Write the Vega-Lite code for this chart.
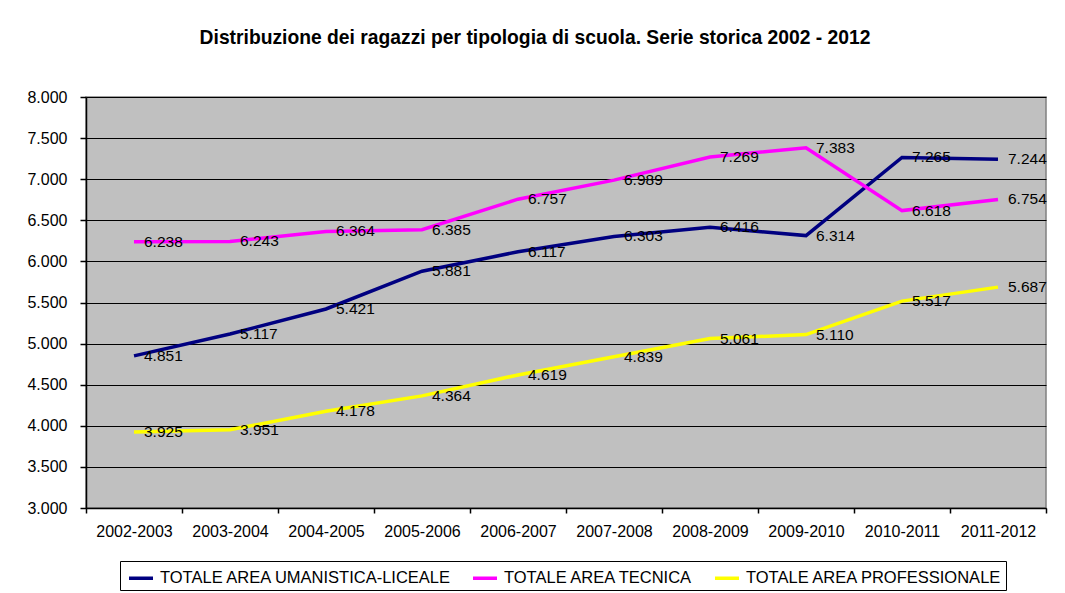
{
  "$schema": "https://vega.github.io/schema/vega-lite/v6.json",
  "width": 960,
  "height": 411,
  "autosize": {"type": "none"},
  "padding": {"left": 86, "top": 97, "right": 19, "bottom": 85},
  "background": "white",
  "config": {
    "locale": {"number": {"decimal": ",", "thousands": ".", "grouping": [3], "currency": ["€", ""]}},
    "font": "Liberation Sans",
    "view": {"fill": "#C0C0C0", "stroke": "#808080", "strokeWidth": 1.5},
    "axis": {"labelFont": "Liberation Sans", "labelFontSize": 16, "labelColor": "black", "domainColor": "black", "tickColor": "black", "domainWidth": 1.5, "tickWidth": 1.5}
  },
  "title": {
    "text": "Distribuzione dei ragazzi per tipologia di scuola. Serie storica 2002 - 2012",
    "font": "Liberation Sans",
    "fontSize": 19.3,
    "fontWeight": "bold",
    "color": "black",
    "anchor": "middle",
    "frame": "group",
    "offset": 41,
    "dx": -31
  },
  "data": {
    "values": [
      {"anno": "2002-2003", "serie": "TOTALE AREA UMANISTICA-LICEALE", "valore": 4851},
      {"anno": "2003-2004", "serie": "TOTALE AREA UMANISTICA-LICEALE", "valore": 5117},
      {"anno": "2004-2005", "serie": "TOTALE AREA UMANISTICA-LICEALE", "valore": 5421},
      {"anno": "2005-2006", "serie": "TOTALE AREA UMANISTICA-LICEALE", "valore": 5881},
      {"anno": "2006-2007", "serie": "TOTALE AREA UMANISTICA-LICEALE", "valore": 6117},
      {"anno": "2007-2008", "serie": "TOTALE AREA UMANISTICA-LICEALE", "valore": 6303},
      {"anno": "2008-2009", "serie": "TOTALE AREA UMANISTICA-LICEALE", "valore": 6416},
      {"anno": "2009-2010", "serie": "TOTALE AREA UMANISTICA-LICEALE", "valore": 6314},
      {"anno": "2010-2011", "serie": "TOTALE AREA UMANISTICA-LICEALE", "valore": 7265},
      {"anno": "2011-2012", "serie": "TOTALE AREA UMANISTICA-LICEALE", "valore": 7244},
      {"anno": "2002-2003", "serie": "TOTALE AREA TECNICA", "valore": 6238},
      {"anno": "2003-2004", "serie": "TOTALE AREA TECNICA", "valore": 6243},
      {"anno": "2004-2005", "serie": "TOTALE AREA TECNICA", "valore": 6364},
      {"anno": "2005-2006", "serie": "TOTALE AREA TECNICA", "valore": 6385},
      {"anno": "2006-2007", "serie": "TOTALE AREA TECNICA", "valore": 6757},
      {"anno": "2007-2008", "serie": "TOTALE AREA TECNICA", "valore": 6989},
      {"anno": "2008-2009", "serie": "TOTALE AREA TECNICA", "valore": 7269},
      {"anno": "2009-2010", "serie": "TOTALE AREA TECNICA", "valore": 7383},
      {"anno": "2010-2011", "serie": "TOTALE AREA TECNICA", "valore": 6618},
      {"anno": "2011-2012", "serie": "TOTALE AREA TECNICA", "valore": 6754},
      {"anno": "2002-2003", "serie": "TOTALE AREA PROFESSIONALE", "valore": 3925},
      {"anno": "2003-2004", "serie": "TOTALE AREA PROFESSIONALE", "valore": 3951},
      {"anno": "2004-2005", "serie": "TOTALE AREA PROFESSIONALE", "valore": 4178},
      {"anno": "2005-2006", "serie": "TOTALE AREA PROFESSIONALE", "valore": 4364},
      {"anno": "2006-2007", "serie": "TOTALE AREA PROFESSIONALE", "valore": 4619},
      {"anno": "2007-2008", "serie": "TOTALE AREA PROFESSIONALE", "valore": 4839},
      {"anno": "2008-2009", "serie": "TOTALE AREA PROFESSIONALE", "valore": 5061},
      {"anno": "2009-2010", "serie": "TOTALE AREA PROFESSIONALE", "valore": 5110},
      {"anno": "2010-2011", "serie": "TOTALE AREA PROFESSIONALE", "valore": 5517},
      {"anno": "2011-2012", "serie": "TOTALE AREA PROFESSIONALE", "valore": 5687}
    ]
  },
  "encoding": {
    "x": {
      "field": "anno",
      "type": "nominal",
      "sort": null,
      "scale": {"type": "band", "paddingInner": 0, "paddingOuter": 0},
      "axis": {"title": null, "labelAngle": 0, "tickBand": "extent", "tickSize": 5, "labelPadding": 10, "grid": false}
    },
    "y": {
      "field": "valore",
      "type": "quantitative",
      "scale": {"domain": [3000, 8000], "nice": false, "zero": false},
      "axis": {
        "title": null,
        "values": [3000, 3500, 4000, 4500, 5000, 5500, 6000, 6500, 7000, 7500, 8000],
        "format": ",.0f",
        "grid": true,
        "gridColor": "black",
        "gridWidth": 1,
        "tickSize": 6,
        "labelPadding": 13
      }
    }
  },
  "layer": [
    {
      "mark": {"type": "line", "strokeWidth": 3.5},
      "encoding": {
        "color": {
          "field": "serie",
          "type": "nominal",
          "sort": null,
          "scale": {
            "domain": ["TOTALE AREA UMANISTICA-LICEALE", "TOTALE AREA TECNICA", "TOTALE AREA PROFESSIONALE"],
            "range": ["#000080", "#FF00FF", "#FFFF00"]
          },
          "legend": {
            "title": null,
            "orient": "none",
            "legendX": 34,
            "legendY": 464,
            "direction": "horizontal",
            "strokeColor": "black",
            "fillColor": "white",
            "padding": 3,
            "symbolType": "stroke",
            "symbolSize": 576,
            "symbolStrokeWidth": 3.5,
            "symbolOffset": 4,
            "labelFont": "Liberation Sans",
            "labelFontSize": 16.5,
            "labelColor": "black",
            "labelOffset": 5,
            "columnPadding": 14,
            "labelLimit": 400
          }
        }
      }
    },
    {
      "mark": {"type": "text", "align": "left", "baseline": "middle", "dx": 10, "fontSize": 15.5, "font": "Liberation Sans", "color": "black"},
      "encoding": {
        "text": {"field": "valore", "type": "quantitative", "format": ",.0f"}
      }
    }
  ]
}
